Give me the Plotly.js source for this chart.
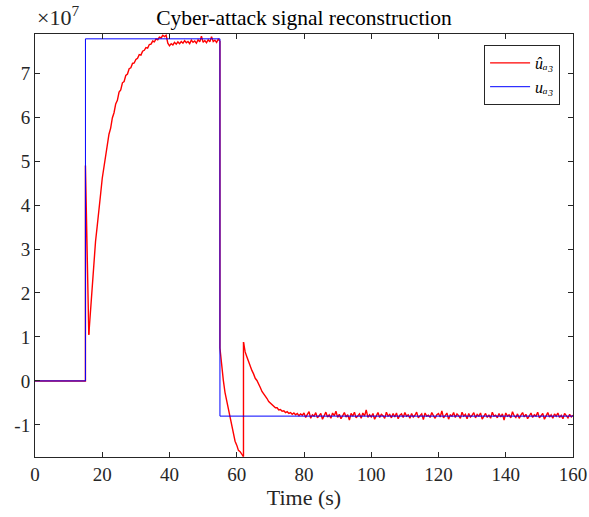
<!DOCTYPE html>
<html>
<head>
<meta charset="utf-8">
<script src="https://cdn.plot.ly/plotly-3.0.1.min.js"></script>
<style>
  html, body { margin: 0; padding: 0; background: #fff; }
  #chart { width: 589px; height: 517px; }
</style>
</head>
<body>
<div id="chart"></div>
<script>
// values in units of 1e7
// reconstructed signal (red), pieces
const redStartT = [0, 15, 15, 15.5, 16];
const redStartV = [0, 0, 4.9, 3.05, 1.05];

// rise, t = 16 ... 55, step 0.5
const redRiseT0 = 16, redStep = 0.5;
const redRiseV = [
  1.05, 1.62, 2.22, 2.66, 3.17, 3.52, 3.96, 4.24, 4.61, 4.85,
  5.16, 5.33, 5.61, 5.75, 5.98, 6.10, 6.30, 6.38, 6.57, 6.62,
  6.78, 6.81, 6.95, 6.98, 7.10, 7.12, 7.22, 7.23, 7.31, 7.34,
  7.42, 7.41, 7.50, 7.52, 7.58, 7.57, 7.65, 7.66, 7.73, 7.71,
  7.78, 7.76, 7.82, 7.80, 7.86, 7.83, 7.86, 7.68,
  7.62, 7.67, 7.64, 7.70, 7.66, 7.71, 7.67, 7.72, 7.68, 7.74,
  7.69, 7.72, 7.67, 7.75, 7.70, 7.73, 7.68, 7.76, 7.71, 7.84,
  7.70, 7.74, 7.69, 7.76, 7.71, 7.83, 7.72, 7.75, 7.70, 7.77,
  7.73
];

// jump at t = 55
const redDrop1T = [55, 55];
const redDrop1V = [7.73, 0.75];

// fall, t = 55 ... 62, step 0.5
const redFallT0 = 55;
const redFallV = [0.75, 0.30, 0.02, -0.26, -0.44, -0.69, -0.87, -1.06, -1.19, -1.37, -1.46, -1.58, -1.61, -1.68, -1.72];

// jump at t = 62
const redJump2T = [62, 62];
const redJump2V = [-1.72, 0.88];

// decay and steady state, t = 62 ... 160, step 0.5
const redTailT0 = 62;
const redTailV = [
  0.88, 0.66, 0.55, 0.43, 0.35, 0.24, 0.16, 0.06, 0.01, -0.09,
  -0.15, -0.24, -0.29, -0.36, -0.40, -0.47, -0.50, -0.55, -0.56, -0.61,
  -0.61, -0.66, -0.65, -0.69, -0.68, -0.72, -0.70, -0.74, -0.72, -0.76,
  -0.73, -0.77, -0.74, -0.79, -0.75, -0.78,
  -0.73, -0.83, -0.76, -0.70, -0.85, -0.77, -0.80, -0.72, -0.84, -0.78,
  -0.74, -0.87, -0.79, -0.71, -0.82, -0.77, -0.85, -0.73, -0.79, -0.69,
  -0.83, -0.76, -0.86, -0.78, -0.72, -0.82, -0.77, -0.89, -0.74, -0.80,
  -0.71, -0.84, -0.79, -0.75, -0.85, -0.73, -0.80, -0.66, -0.83, -0.77,
  -0.82, -0.74, -0.87, -0.78, -0.72, -0.83, -0.76, -0.79, -0.85, -0.71,
  -0.80, -0.76, -0.84, -0.74, -0.82, -0.73, -0.86, -0.78, -0.75, -0.83,
  -0.72, -0.80, -0.77, -0.85, -0.74, -0.82, -0.78, -0.71, -0.84, -0.79,
  -0.75, -0.88, -0.73, -0.80, -0.78, -0.83, -0.72, -0.79, -0.85, -0.77,
  -0.74, -0.82, -0.68, -0.84, -0.78, -0.73, -0.87, -0.77, -0.80, -0.72,
  -0.83, -0.75, -0.79, -0.85, -0.71, -0.80, -0.76, -0.86, -0.74, -0.82,
  -0.78, -0.72, -0.84, -0.76, -0.80, -0.73, -0.87, -0.79, -0.74, -0.83,
  -0.77, -0.85, -0.71, -0.80, -0.78, -0.84, -0.74, -0.82, -0.75, -0.89,
  -0.73, -0.80, -0.77, -0.84, -0.70, -0.79, -0.83, -0.75, -0.85, -0.78,
  -0.72, -0.82, -0.76, -0.86, -0.79, -0.73, -0.83, -0.77, -0.80, -0.71,
  -0.84, -0.78, -0.74, -0.87, -0.79, -0.72, -0.82, -0.77, -0.85, -0.75,
  -0.80, -0.73, -0.83, -0.78, -0.86, -0.74, -0.79, -0.84, -0.76, -0.82,
  -0.78
];

// attack signal (blue)
const blueT = [0, 15, 15, 55, 55, 160];
const blueV = [0, 0, 7.78, 7.78, -0.80, -0.80];

const yTicks = [-1, 0, 1, 2, 3, 4, 5, 6, 7];
const xTicks = [0, 20, 40, 60, 80, 100, 120, 140, 160];

const FONT = '"Liberation Serif", "DejaVu Serif", serif';
const redLine = {color: 'rgb(255,0,0)', width: 1.4};
const blueLine = {color: 'rgb(0,0,255)', width: 1};

const redName = '<i>ûₐ₃</i>';
const blueName = '<i>uₐ₃</i>';

const traces = [
  {x: redStartT, y: redStartV, mode: 'lines', line: redLine, name: redName, legendgroup: 'r', showlegend: true},
  {y: redRiseV, x0: redRiseT0, dx: redStep, mode: 'lines', line: redLine, legendgroup: 'r', showlegend: false},
  {x: redDrop1T, y: redDrop1V, mode: 'lines', line: redLine, legendgroup: 'r', showlegend: false},
  {y: redFallV, x0: redFallT0, dx: redStep, mode: 'lines', line: redLine, legendgroup: 'r', showlegend: false},
  {x: redJump2T, y: redJump2V, mode: 'lines', line: redLine, legendgroup: 'r', showlegend: false},
  {y: redTailV, x0: redTailT0, dx: redStep, mode: 'lines', line: redLine, legendgroup: 'r', showlegend: false},
  {x: blueT, y: blueV, mode: 'lines', line: blueLine, name: blueName, showlegend: true}
];

const axisCommon = {
  showgrid: false, zeroline: false,
  showline: true, linecolor: '#262626', linewidth: 1, mirror: 'allticks',
  ticks: 'inside', ticklen: 5, tickcolor: '#262626', tickwidth: 1,
  tickfont: {family: FONT, size: 19, color: '#262626'}
};

const layout = {
  width: 589, height: 517,
  margin: {l: 35, r: 16, t: 34, b: 60},
  paper_bgcolor: '#fff', plot_bgcolor: '#fff',
  showlegend: true,
  title: {text: 'Cyber-attack signal reconstruction', font: {family: FONT, size: 21.5, color: '#000'},
          x: 0.5, xref: 'paper', y: 1, yref: 'paper', yanchor: 'bottom', pad: {b: 9}},
  xaxis: Object.assign({}, axisCommon, {
    range: [0, 160], tickvals: xTicks, ticktext: xTicks.map(String),
    title: {text: 'Time (s)', font: {family: FONT, size: 22, color: '#262626'}, standoff: 2}
  }),
  yaxis: Object.assign({}, axisCommon, {
    range: [-1.73, 7.89], tickvals: yTicks, ticktext: yTicks.map(String)
  }),
  legend: {
    x: 0.976, y: 0.974, xanchor: 'right', yanchor: 'top',
    bgcolor: '#fff', bordercolor: '#262626', borderwidth: 1,
    font: {family: FONT, size: 16, color: '#000'},
    itemwidth: 40, tracegroupgap: 0
  },
  annotations: [{
    text: '×10<sup>7</sup>', xref: 'paper', yref: 'paper', x: 0, y: 1,
    xanchor: 'left', yanchor: 'bottom', showarrow: false, yshift: 2,
    font: {family: FONT, size: 22, color: '#262626'}
  }]
};

Plotly.newPlot('chart', traces, layout, {displayModeBar: false, staticPlot: true});
</script>
</body>
</html>
